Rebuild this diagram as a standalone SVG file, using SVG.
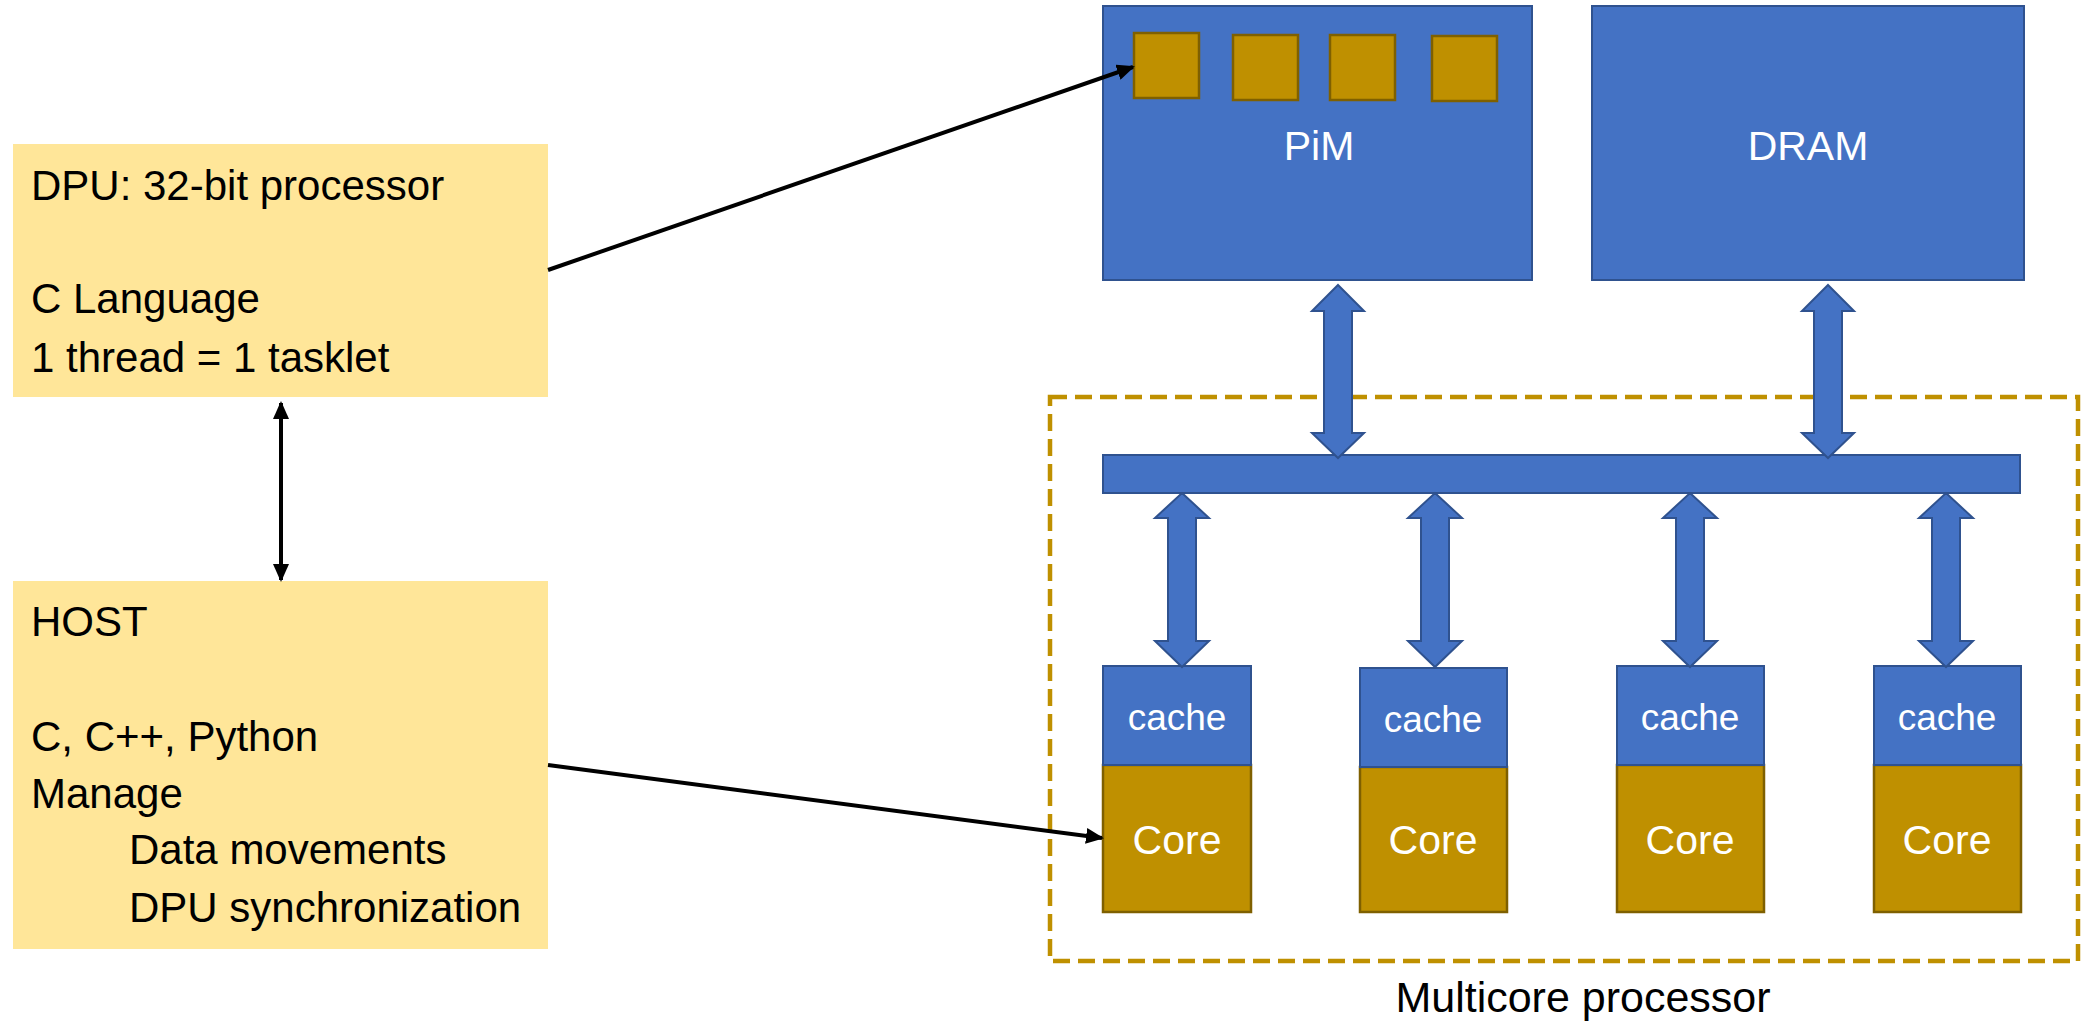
<svg xmlns="http://www.w3.org/2000/svg" width="2093" height="1021" viewBox="0 0 2093 1021">
  <style>
    .note { fill: #FFE699; }
    .note-text { font-family: "Liberation Sans", Arial, sans-serif; font-size: 42px; fill: #000; }
    .blue { fill: #4472C4; stroke: #2F528F; stroke-width: 2; }
    .gold { fill: #BF9000; stroke: #7F6000; stroke-width: 2.5; }
    .label { font-family: "Liberation Sans", Arial, sans-serif; fill: #fff; text-anchor: middle; }
    .link { stroke: #000; stroke-width: 4; fill: none; }
    .frame { fill: none; stroke: #BF9000; stroke-width: 4.5; stroke-dasharray: 17 8; }
  </style>
  <defs>
    <marker id="head" markerUnits="userSpaceOnUse" markerWidth="18" markerHeight="16" refX="16" refY="8" orient="auto-start-reverse">
      <path d="M0,0 L18,8 L0,16 Z" fill="#000"/>
    </marker>
  </defs>

  <rect width="2093" height="1021" fill="#fff"/>

  <!-- DPU description -->
  <g id="dpu-note">
    <rect class="note" x="13" y="144" width="535" height="253"/>
    <text class="note-text" x="31" y="200">DPU: 32-bit processor</text>
    <text class="note-text" x="31" y="313">C Language</text>
    <text class="note-text" x="31" y="372">1 thread = 1 tasklet</text>
  </g>

  <!-- Host description -->
  <g id="host-note">
    <rect class="note" x="13" y="581" width="535" height="368"/>
    <text class="note-text" x="31" y="636">HOST</text>
    <text class="note-text" x="31" y="751">C, C++, Python</text>
    <text class="note-text" x="31" y="808">Manage</text>
    <text class="note-text" x="129" y="864">Data movements</text>
    <text class="note-text" x="129" y="922">DPU synchronization</text>
  </g>

  <!-- PiM memory with its DPUs -->
  <g id="pim">
    <rect class="blue" x="1103" y="6" width="429" height="274"/>
    <rect class="gold" x="1134" y="33" width="65" height="65"/>
    <rect class="gold" x="1233" y="35" width="65" height="65"/>
    <rect class="gold" x="1330" y="35" width="65" height="65"/>
    <rect class="gold" x="1432" y="36" width="65" height="65"/>
    <text class="label" x="1319" y="160" font-size="41">PiM</text>
  </g>

  <!-- DRAM -->
  <g id="dram">
    <rect class="blue" x="1592" y="6" width="432" height="274"/>
    <text class="label" x="1808" y="160" font-size="41">DRAM</text>
  </g>

  <!-- Multicore processor frame -->
  <g id="multicore">
    <rect class="frame" x="1050" y="397" width="1028" height="564"/>
    <text x="1583" y="1012" font-family="Liberation Sans, Arial, sans-serif" font-size="43" text-anchor="middle" fill="#000">Multicore processor</text>
  </g>

  <!-- Shared bus -->
  <g id="bus">
    <rect class="blue" x="1103" y="455" width="917" height="38"/>
  </g>

  <!-- Cores with private caches -->
  <g id="core-1">
    <rect class="gold" x="1103" y="765" width="148" height="147"/>
    <rect class="blue" x="1103" y="666" width="148" height="99"/>
    <text class="label" x="1177" y="730" font-size="37">cache</text>
    <text class="label" x="1177" y="854" font-size="41">Core</text>
  </g>
  <g id="core-2">
    <rect class="gold" x="1360" y="767" width="147" height="145"/>
    <rect class="blue" x="1360" y="668" width="147" height="99"/>
    <text class="label" x="1433" y="732" font-size="37">cache</text>
    <text class="label" x="1433" y="854" font-size="41">Core</text>
  </g>
  <g id="core-3">
    <rect class="gold" x="1617" y="765" width="147" height="147"/>
    <rect class="blue" x="1617" y="666" width="147" height="99"/>
    <text class="label" x="1690" y="730" font-size="37">cache</text>
    <text class="label" x="1690" y="854" font-size="41">Core</text>
  </g>
  <g id="core-4">
    <rect class="gold" x="1874" y="765" width="147" height="147"/>
    <rect class="blue" x="1874" y="666" width="147" height="99"/>
    <text class="label" x="1947" y="730" font-size="37">cache</text>
    <text class="label" x="1947" y="854" font-size="41">Core</text>
  </g>

  <!-- Connectors -->
  <g id="connectors">
    <!-- block double arrows: memory <-> bus -->
    <path class="blue" d="M1338,285 L1364,311 L1352,311 L1352,433 L1364,433 L1338,458 L1312,433 L1324,433 L1324,311 L1312,311 Z"/>
    <path class="blue" d="M1828,285 L1854,311 L1842,311 L1842,433 L1854,433 L1828,458 L1802,433 L1814,433 L1814,311 L1802,311 Z"/>
    <!-- block double arrows: bus <-> caches -->
    <path class="blue" d="M1182,493 L1209,518 L1196,518 L1196,641 L1209,641 L1182,667 L1155,641 L1168,641 L1168,518 L1155,518 Z"/>
    <path class="blue" d="M1435,493 L1462,518 L1449,518 L1449,641 L1462,641 L1435,667 L1408,641 L1421,641 L1421,518 L1408,518 Z"/>
    <path class="blue" d="M1690,493 L1717,518 L1704,518 L1704,641 L1717,641 L1690,667 L1663,641 L1676,641 L1676,518 L1663,518 Z"/>
    <path class="blue" d="M1946,493 L1973,518 L1960,518 L1960,641 L1973,641 L1946,667 L1919,641 L1932,641 L1932,518 L1919,518 Z"/>

    <!-- DPU note -> first DPU -->
    <line class="link" x1="548" y1="270" x2="1133" y2="67" marker-end="url(#head)"/>
    <!-- Host note -> first core -->
    <line class="link" x1="548" y1="765" x2="1102" y2="838" marker-end="url(#head)"/>
    <!-- DPU note <-> Host note -->
    <line class="link" stroke-width="3" x1="281" y1="403" x2="281" y2="580" marker-start="url(#head)" marker-end="url(#head)"/>
  </g>
</svg>
